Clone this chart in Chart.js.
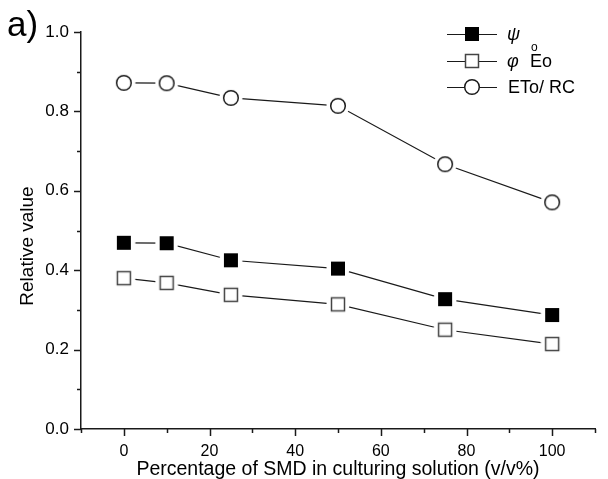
<!DOCTYPE html>
<html>
  <head>
    <meta charset="utf-8">
    <title>Relative value vs SMD</title>
    <script src="https://cdn.jsdelivr.net/npm/chart.js@4.4.1/dist/chart.umd.min.js"></script>
    <style>
      html, body { margin: 0; padding: 0; background: #fff; }
      .chart-container { position: relative; width: 608px; height: 479px; }
    </style>
  </head>
  <body>
  <div class="chart-container">
    <canvas id="gr1"></canvas>
  </div>
    <script>
    // data
    const pct = [0, 10, 25, 50, 75, 100];
    const psiO = [0.469, 0.468, 0.425, 0.404, 0.327, 0.287];
    const phiEo = [0.380, 0.368, 0.338, 0.314, 0.250, 0.214];
    const etoRc = [0.872, 0.871, 0.834, 0.814, 0.667, 0.571];

    const xMin = -10, xMax = 110;
    const yMin = 0, yMax = 1.0;

    const FONT = "'Liberation Sans', Arial, sans-serif";
    const INK = '#1a1a1a';

    function drawMarker(ctx, kind, x, y) {
      ctx.save();
      ctx.lineWidth = 1.5;
      ctx.strokeStyle = INK;
      if (kind === 'fsq') {
        ctx.fillStyle = '#000';
        ctx.fillRect(x - 7, y - 7, 14, 14);
      } else if (kind === 'osq') {
        ctx.fillStyle = '#fff';
        ctx.fillRect(x - 6.5, y - 6.5, 13, 13);
        ctx.strokeStyle = '#444';
        ctx.strokeRect(x - 6.5, y - 6.5, 13, 13);
      } else {
        ctx.beginPath();
        ctx.arc(x, y, 7.3, 0, Math.PI * 2);
        ctx.fillStyle = '#fff';
        ctx.fill();
        ctx.stroke();
      }
      ctx.restore();
    }

    // marker image with a white halo, so the line stops short of the symbol
    function markerImage(kind) {
      const c = document.createElement('canvas');
      c.width = 24; c.height = 24;
      const g = c.getContext('2d');
      g.beginPath();
      g.arc(12, 12, 11.5, 0, Math.PI * 2);
      g.fillStyle = '#fff';
      g.fill();
      drawMarker(g, kind, 12, 12);
      return c;
    }

    function pts(ys) {
      return pct.map((x, i) => ({ x: x, y: ys[i] }));
    }

    function series(label, ys, kind) {
      return {
        label: label,
        data: pts(ys),
        borderColor: INK,
        borderWidth: 1.2,
        tension: 0,
        pointStyle: markerImage(kind),
        pointRadius: 10,
        clip: false
      };
    }

    const legendItems = [
      { kind: 'fsq', y: 34 },
      { kind: 'osq', y: 61 },
      { kind: 'circ', y: 87 }
    ];

    const extras = {
      id: 'extras',
      afterDraw(chart) {
        const ctx = chart.ctx;
        const xs = chart.scales.x, ys = chart.scales.y;
        const x0 = ys.right, y0 = xs.top;
        ctx.save();
        ctx.strokeStyle = INK;
        ctx.lineWidth = 1.5;
        // tick marks, long for labelled, short for the rest
        xs.ticks.forEach(t => {
          const px = Math.round(xs.getPixelForValue(t.value)) + 0.5;
          const len = (Math.round(t.value) % 20 === 0) ? 7 : 4;
          ctx.beginPath();
          ctx.moveTo(px, y0);
          ctx.lineTo(px, y0 + len);
          ctx.stroke();
        });
        ys.ticks.forEach(t => {
          const py = Math.round(ys.getPixelForValue(t.value)) + 0.5;
          const len = (Math.round(t.value * 10) % 2 === 0) ? 7 : 4;
          ctx.beginPath();
          ctx.moveTo(x0, py);
          ctx.lineTo(x0 - len, py);
          ctx.stroke();
        });

        // panel letter
        ctx.fillStyle = '#000';
        ctx.font = '35px ' + FONT;
        ctx.textBaseline = 'alphabetic';
        ctx.textAlign = 'left';
        ctx.fillText('a)', 7, 36);

        // y title
        ctx.save();
        ctx.translate(33, 246);
        ctx.rotate(-Math.PI / 2);
        ctx.textAlign = 'center';
        ctx.font = '19px ' + FONT;
        ctx.fillText('Relative value', 0, 0);
        ctx.restore();

        // legend
        legendItems.forEach(it => {
          ctx.lineWidth = 1.2;
          ctx.beginPath();
          ctx.moveTo(447, it.y + 0.5);
          ctx.lineTo(497, it.y + 0.5);
          ctx.stroke();
          drawMarker(ctx, it.kind, 472, it.y);
        });
        ctx.fillStyle = '#000';
        ctx.textBaseline = 'middle';
        ctx.font = 'italic 18px ' + FONT;
        ctx.fillText('\u03C8', 507, 35);
        ctx.font = '12px ' + FONT;
        ctx.fillText('o', 531, 48);
        ctx.font = 'italic 18px ' + FONT;
        ctx.fillText('\u03C6', 507, 62);
        ctx.font = '18px ' + FONT;
        ctx.fillText('Eo', 530, 62);
        ctx.fillText('ETo/ RC', 508, 88);
        ctx.restore();
      }
    };

    const config = {
      type: 'line',
      data: {
        datasets: [
          series('\u03C8 o', psiO, 'fsq'),
          series('\u03C6 Eo', phiEo, 'osq'),
          series('ETo/ RC', etoRc, 'circ')
        ]
      },
      options: {
        responsive: true,
        maintainAspectRatio: false,
        animation: false,
        layout: { padding: { top: 32, right: 2, left: 0, bottom: 0 } },
        plugins: {
          legend: { display: false },
          title: { display: false },
          tooltip: { enabled: false }
        },
        scales: {
          x: {
            type: 'linear',
            min: xMin,
            max: xMax,
            grid: { display: false, drawTicks: false },
            border: { display: true, color: INK, width: 1.5 },
            ticks: {
              stepSize: 10,
              autoSkip: false,
              maxRotation: 0,
              padding: 13,
              color: '#000',
              font: { family: FONT, size: 16 },
              callback: v => (Math.round(v) % 20 === 0 && v >= 0 && v <= 100) ? String(v) : ''
            },
            title: {
              display: true,
              text: 'Percentage of SMD in culturing solution (v/v%)',
              color: '#000',
              font: { family: FONT, size: 19.5, lineHeight: 1 },
              padding: { top: 0, bottom: 0 }
            },
            afterFit: s => { s.height = 50; }
          },
          y: {
            min: yMin,
            max: yMax,
            grid: { display: false, drawTicks: false },
            border: { display: true, color: INK, width: 1.5 },
            ticks: {
              stepSize: 0.1,
              autoSkip: false,
              padding: 12,
              color: '#000',
              font: { family: FONT, size: 17 },
              callback: v => (Math.round(v * 10) % 2 === 0) ? v.toFixed(1) : ''
            },
            afterFit: s => { s.width = 81; }
          }
        }
      },
      plugins: [extras]
    };

    const canv = document.getElementById('gr1');
    const ctx = canv.getContext('2d');
    const graph1 = new Chart(ctx, config);
    </script>
  </body>
</html>
